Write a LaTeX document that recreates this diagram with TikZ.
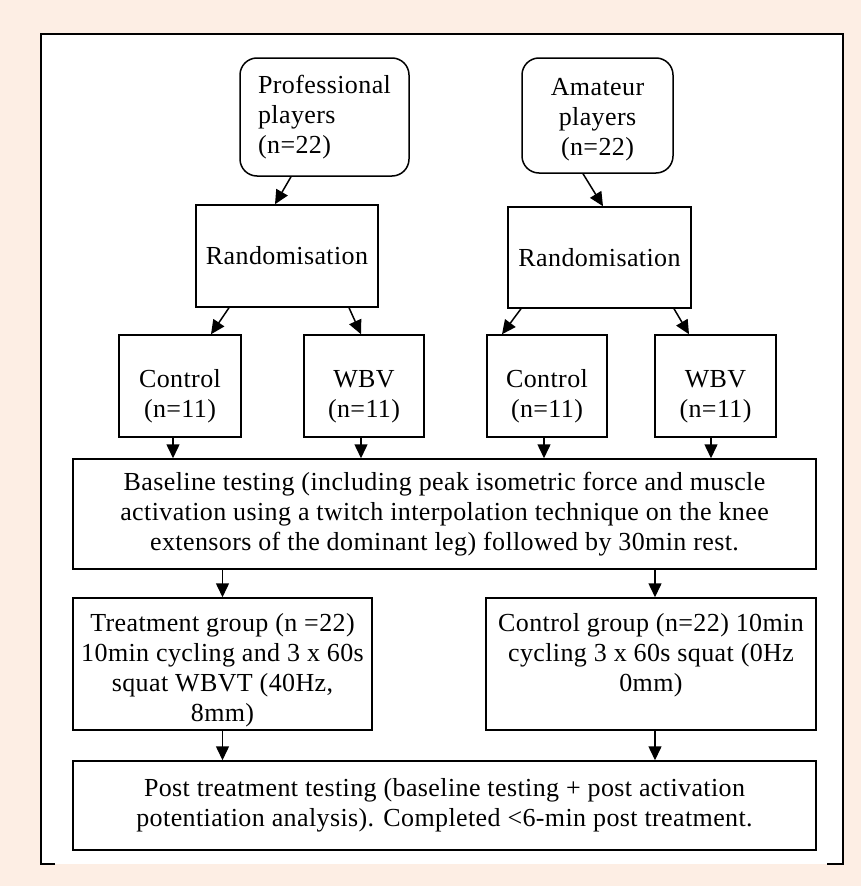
\documentclass[tikz,border=0pt]{standalone}
\usepackage{fontspec}
\setmainfont[LetterSpace=1.5]{Liberation Serif}
\usetikzlibrary{arrows.meta}
\definecolor{bgc}{RGB}{253,238,228}
\newcommand{\dnstrut}[1]{\rule{0pt}{#1}}
\newcommand{\upstrut}[1]{\rule[-#1]{0pt}{#1}}
\begin{document}
\begin{tikzpicture}[x=1pt,y=-1pt,
  box/.style={draw=black, line width=1.5pt, fill=white, inner sep=3pt,
    font=\fontsize{26}{30}\selectfont, align=center},
  arr/.style={draw=black, line width=1.5pt, -{Triangle[length=14pt,width=13pt]}}]
\fill[bgc] (0,0) rectangle (861,886);
\useasboundingbox (0,0) rectangle (861,886);
\fill[white] (41,34) rectangle (843,864);
\draw[line width=2pt] (55,864) -- (41,864) -- (41,34) -- (843,34) -- (843,864) -- (827,864);

\node[box, rounded corners=17pt, align=left, minimum width=169pt, minimum height=118pt] (prof) at (324.5,117)
  {Professional\\players\\(n=22)};
\node[box, rounded corners=17pt, minimum width=151pt, minimum height=115pt] (amat) at (597.5,115.5)
  {\dnstrut{25pt}Amateur\\players\\(n=22)};

\node[box, minimum width=182pt, minimum height=102pt] (rl) at (287,256) {Randomisation};
\node[box, minimum width=183pt, minimum height=101pt] (rr) at (599.5,257.5) {Randomisation};

\node[box, minimum width=122pt, minimum height=102pt] (c1) at (180,386) {\dnstrut{38pt}Control\\(n=11)};
\node[box, minimum width=120pt, minimum height=102pt] (w1) at (364,386) {\dnstrut{38pt}WBV\\(n=11)};
\node[box, minimum width=120pt, minimum height=102pt] (c2) at (547,386) {\dnstrut{38pt}Control\\(n=11)};
\node[box, minimum width=121pt, minimum height=102pt] (w2) at (715.5,386) {\dnstrut{38pt}WBV\\(n=11)};

\node[box, minimum width=743pt, minimum height=110pt] (base) at (444.5,514)
  {Baseline testing (including peak isometric force and muscle\\
   activation using a twitch interpolation technique on the knee\\
   extensors of the dominant leg) followed by 30min rest.};

\node[box, minimum width=299pt, minimum height=132pt] (treat) at (222.5,664)
  {\dnstrut{30pt}Treatment group (n =22)\\10min cycling and 3 x 60s\\squat WBVT (40Hz,\\8mm)};
\node[box, minimum width=330pt, minimum height=132pt] (cgrp) at (651,664)
  {Control group (n=22) 10min\\cycling 3 x 60s squat (0Hz\\0mm)\upstrut{24pt}};

\node[box, minimum width=743pt, minimum height=89pt] (post) at (444.5,805.5)
  {Post treatment testing (baseline testing + post activation\\
   potentiation analysis). Completed <6-min post treatment.};

\draw[arr] ([xshift=-33.5pt]prof.south) -- ([xshift=-12pt]rl.north);
\draw[arr] ([xshift=-14.5pt]amat.south) -- ([xshift=3.5pt]rr.north);

\draw[arr] ([xshift=-58pt]rl.south) -- ([xshift=31pt]c1.north);
\draw[arr] ([xshift=62pt]rl.south) -- ([xshift=-3pt]w1.north);
\draw[arr] ([xshift=-78.5pt]rr.south) -- ([xshift=-45pt]c2.north);
\draw[arr] ([xshift=74.5pt]rr.south) -- ([xshift=-26.5pt]w2.north);

\draw[arr] ([xshift=-7pt]c1.south) -- ([xshift=-7pt]c1.south |- base.north);
\draw[arr] ([xshift=-3pt]w1.south) -- ([xshift=-3pt]w1.south |- base.north);
\draw[arr] ([xshift=-3pt]c2.south) -- ([xshift=-3pt]c2.south |- base.north);
\draw[arr] ([xshift=-4.5pt]w2.south) -- ([xshift=-4.5pt]w2.south |- base.north);

\draw[arr] (treat.north |- base.south) -- (treat.north);
\draw[arr] ([xshift=4pt]cgrp.north |- base.south) -- ([xshift=4pt]cgrp.north);
\draw[arr] (treat.south) -- (treat.south |- post.north);
\draw[arr] ([xshift=4pt]cgrp.south) -- ([xshift=4pt]cgrp.south |- post.north);
\end{tikzpicture}
\end{document}
